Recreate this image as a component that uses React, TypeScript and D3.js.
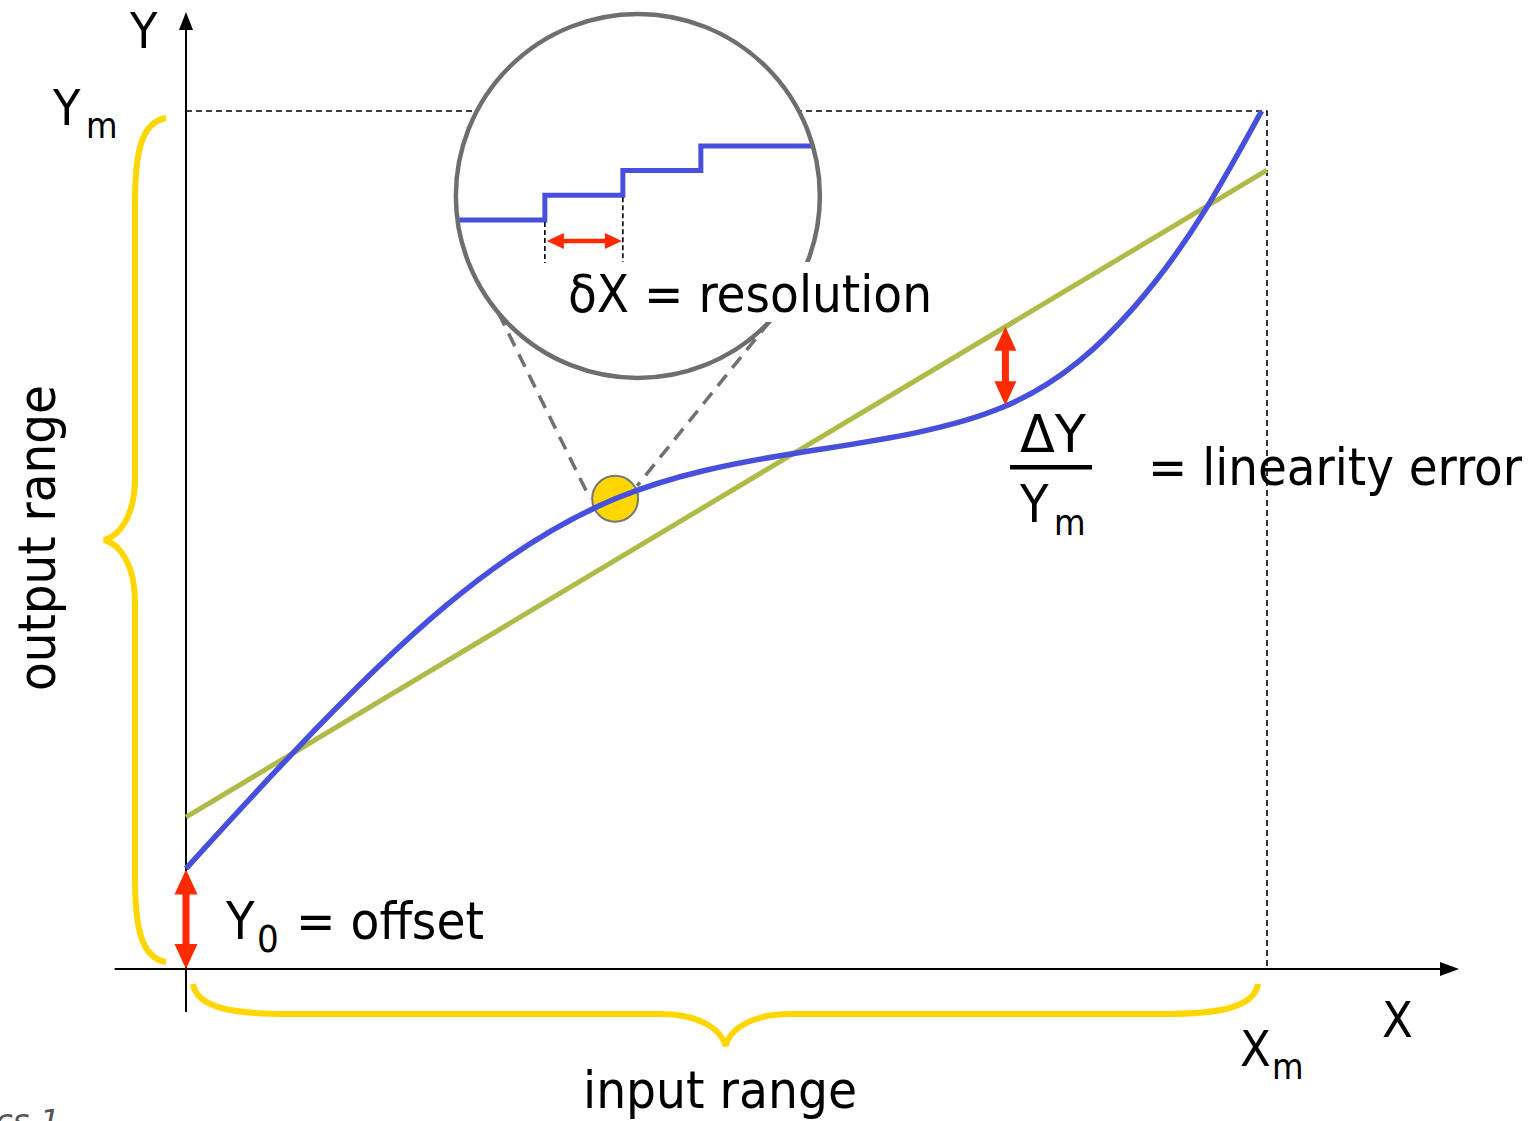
import React, { useRef, useEffect } from "react";
import * as d3 from "d3";

const WIDTH = 1530;
const HEIGHT = 1121;

// sensor transfer characteristic, normalised to Xm = 1 and Ym = 1
const curveX = [0, 0.099, 0.241, 0.397, 0.568, 0.756, 0.876, 0.943, 0.995];
const curveY = [0.117, 0.252, 0.424, 0.548, 0.602, 0.655, 0.77, 0.885, 1.0];

// best straight line through the characteristic
const fitX = [0, 1];
const fitY = [0.177, 0.931];

// zoomed-in detail: quantisation steps (code k holds between edges k and k+1)
const stepCodes = [0, 1, 2, 3];
const stepEdges = [-1.5, 1, 2, 3, 5];

const zoomAtX = 0.397; // where the magnifier looks at the curve
const insetCentre = [0.418, 0.901];
const errorAtX = 0.758; // where the linearity error is marked

const BLUE = "#4650DC";
const GREEN = "#AFBA48";
const YELLOW = "#FFD600";
const RED = "#FF2A00";
const GREY = "#6E6E6E";
const FONT = "'DejaVu Sans Condensed', 'DejaVu Sans', sans-serif";

function doubleArrow(x1: number, y1: number, x2: number, y2: number, head: number, hw: number, sw: number) {
  const len = Math.hypot(x2 - x1, y2 - y1);
  const ux = (x2 - x1) / len;
  const uy = (y2 - y1) / len;
  const nx = -uy;
  const ny = ux;
  const at = (x: number, y: number, along: number, side: number) => [x + ux * along + nx * side, y + uy * along + ny * side];
  const pts = [
    [x1, y1],
    at(x1, y1, head, hw / 2),
    at(x1, y1, head, sw / 2),
    at(x2, y2, -head, sw / 2),
    at(x2, y2, -head, hw / 2),
    [x2, y2],
    at(x2, y2, -head, -hw / 2),
    at(x2, y2, -head, -sw / 2),
    at(x1, y1, head, -sw / 2),
    at(x1, y1, head, -hw / 2),
  ];
  return "M" + pts.map((p) => p.join(",")).join("L") + "Z";
}

function App() {
  const svgRef = useRef<SVGSVGElement>(null);

  useEffect(() => {
    const svg = d3.select(svgRef.current);
    svg.selectAll("*").remove();

    const x = d3.scaleLinear().domain([0, 1]).range([186, 1267]);
    const y = d3.scaleLinear().domain([0, 1]).range([969, 111]);
    const onCurve = d3.scaleLinear().domain(curveX).range(curveY);

    const x0 = x(0);
    const y0 = y(0);

    // dashed guides to Xm / Ym
    svg.append("path")
      .attr("d", `M${x0},${y(1)}H${x(1)}V${y0}`)
      .attr("fill", "none")
      .attr("stroke", "#000")
      .attr("stroke-width", 1.6)
      .attr("stroke-dasharray", "6 4");

    // axes
    svg.append("line").attr("x1", x0).attr("x2", x0).attr("y1", y(-0.05)).attr("y2", 26)
      .attr("stroke", "#000").attr("stroke-width", 2);
    svg.append("path").attr("d", `M${x0},12L${x0 - 7},30L${x0 + 7},30Z`).attr("fill", "#000");
    svg.append("line").attr("x1", x(-0.066)).attr("x2", 1444).attr("y1", y0).attr("y2", y0)
      .attr("stroke", "#000").attr("stroke-width", 2);
    svg.append("path").attr("d", `M1459,${y0}L1440,${y0 - 7}L1440,${y0 + 7}Z`).attr("fill", "#000");

    // ranges (curly braces)
    const spine = 135, tip = 104, endX = 166;
    const top = y(1) + 7, bot = y0 - 7, mid = (top + bot) / 2;
    svg.append("path")
      .attr("d",
        `M${endX},${top}C${spine + 6},${top + 4} ${spine},${top + 35} ${spine},${top + 85}` +
        `L${spine},${mid - 62}C${spine},${mid - 25} ${tip + 16},${mid - 4} ${tip},${mid}` +
        `C${tip + 16},${mid + 4} ${spine},${mid + 25} ${spine},${mid + 62}` +
        `L${spine},${bot - 85}C${spine},${bot - 35} ${spine + 6},${bot - 4} ${endX},${bot}`)
      .attr("fill", "none").attr("stroke", YELLOW).attr("stroke-width", 6);

    const bSpine = 1014, bTip = 1046, bTop = 984;
    const left = x0 + 7, right = x(1) - 9, bMid = (left + right) / 2;
    svg.append("path")
      .attr("d",
        `M${left},${bTop}C${left + 4},${bSpine - 6} ${left + 40},${bSpine} ${left + 95},${bSpine}` +
        `L${bMid - 65},${bSpine}C${bMid - 25},${bSpine} ${bMid - 4},${bTip - 16} ${bMid},${bTip}` +
        `C${bMid + 4},${bTip - 16} ${bMid + 25},${bSpine} ${bMid + 65},${bSpine}` +
        `L${right - 95},${bSpine}C${right - 40},${bSpine} ${right - 4},${bSpine - 6} ${right},${bTop}`)
      .attr("fill", "none").attr("stroke", YELLOW).attr("stroke-width", 6);

    // straight line fit
    svg.append("line")
      .attr("x1", x(fitX[0])).attr("y1", y(fitY[0]))
      .attr("x2", x(fitX[1])).attr("y2", y(fitY[1]))
      .attr("stroke", GREEN).attr("stroke-width", 5);

    // magnifier: cone from the curve point to the circle
    const cx = x(insetCentre[0]);
    const cy = y(insetCentre[1]);
    const r = 182;
    const px = x(zoomAtX);
    const py = y(onCurve(zoomAtX));
    const coneAngles = [140, 43.5];
    const coneEnds = [[px - 25, py], [px + 22, py - 13]];
    coneAngles.forEach((a, i) => {
      const t = (a * Math.PI) / 180;
      svg.append("line")
        .attr("x1", cx + r * Math.cos(t)).attr("y1", cy + r * Math.sin(t))
        .attr("x2", coneEnds[i][0]).attr("y2", coneEnds[i][1])
        .attr("stroke", "#707070").attr("stroke-width", 3.5).attr("stroke-dasharray", "14 9");
    });
    svg.append("circle").attr("cx", px).attr("cy", py).attr("r", 23)
      .attr("fill", "#FFD700").attr("stroke", "#777").attr("stroke-width", 2);

    // characteristic curve
    const line = d3.line<number>()
      .x((d, i) => x(curveX[i]))
      .y((d) => y(d))
      .curve(d3.curveNatural);
    svg.append("path").attr("d", line(curveY)).attr("fill", "none")
      .attr("stroke", BLUE).attr("stroke-width", 5.5);

    // inset circle
    svg.append("defs").append("clipPath").attr("id", "inset-clip")
      .append("circle").attr("cx", cx).attr("cy", cy).attr("r", r - 2);
    svg.append("circle").attr("cx", cx).attr("cy", cy).attr("r", r)
      .attr("fill", "#fff").attr("stroke", GREY).attr("stroke-width", 4.5);

    const xi = d3.scaleLinear().domain([1, 3]).range([cx - 93, cx + 63]);
    const yi = d3.scaleLinear().domain([0, 3]).range([cy + 24, cy - 50]);
    let d = `M${xi(stepEdges[0])},${yi(stepCodes[0])}`;
    stepCodes.forEach((c, k) => {
      d += `V${yi(c)}H${xi(stepEdges[k + 1])}`;
    });
    svg.append("path").attr("d", d).attr("clip-path", "url(#inset-clip)")
      .attr("fill", "none").attr("stroke", BLUE).attr("stroke-width", 5);

    const markBottom = cy + 67;
    [1, 2].forEach((e) => {
      svg.append("line")
        .attr("x1", xi(e)).attr("x2", xi(e))
        .attr("y1", yi(e - 1) + 2).attr("y2", markBottom)
        .attr("stroke", "#000").attr("stroke-width", 1.6).attr("stroke-dasharray", "5 3");
    });
    svg.append("path")
      .attr("d", doubleArrow(xi(1) + 2, cy + 45, xi(2) - 1, cy + 45, 17, 16, 4.5))
      .attr("fill", RED);

    // white box under the resolution label (cuts the circle)
    svg.append("rect").attr("x", 566).attr("y", cy + 66).attr("width", 370).attr("height", 60).attr("fill", "#fff");

    // offset and linearity error arrows
    svg.append("path")
      .attr("d", doubleArrow(x0, y(curveY[0]) + 1, x0, y0, 25, 23, 7))
      .attr("fill", RED);
    const ex = x(errorAtX);
    const fitAt = fitY[0] + (fitY[1] - fitY[0]) * errorAtX;
    svg.append("path")
      .attr("d", doubleArrow(ex, y(fitAt), ex, y(onCurve(errorAtX)), 24, 22, 7))
      .attr("fill", RED);

    // labels
    const text = (tx: number, ty: number, s: string, size: number, len?: number) => {
      const t = svg.append("text").attr("x", tx).attr("y", ty)
        .attr("font-family", FONT).attr("font-stretch", "condensed")
        .attr("font-size", size).attr("fill", "#000").text(s);
      if (len) t.attr("textLength", len).attr("lengthAdjust", "spacingAndGlyphs");
      return t;
    };

    text(130, 48, "Y", 50);
    text(53, 125, "Y", 50);
    text(86, 138, "m", 36);
    text(1382, 1037, "X", 50);
    text(1240, 1066, "X", 50);
    text(1272, 1079, "m", 36);

    text(226, 939, "Y", 52);
    text(257, 952, "0", 38);
    text(296, 939, "= offset", 52, 188);

    text(568, 312, "δX = resolution", 52, 364);

    text(1020, 452, "ΔY", 52, 66);
    svg.append("rect").attr("x", 1010).attr("y", 465).attr("width", 82).attr("height", 4.5).attr("fill", "#000");
    text(1020, 522, "Y", 52);
    text(1054, 535, "m", 36);
    text(1148, 485, "= linearity error", 52, 374);

    text(583, 1108, "input range", 52, 274);
    text(0, 0, "output range", 52, 306)
      .attr("transform", `translate(55,538) rotate(-90)`)
      .attr("text-anchor", "middle")
      .attr("x", 0).attr("y", 0);

    svg.append("text").attr("x", 60).attr("y", 1132)
      .attr("text-anchor", "end").attr("font-family", "'DejaVu Sans', sans-serif")
      .attr("font-style", "italic").attr("font-size", 32).attr("fill", "#555")
      .text("cs 1");
  }, []);

  return (
    <div>
      <svg
        ref={svgRef}
        width={WIDTH}
        height={HEIGHT}
        style={{ position: "absolute", left: 0, top: 0, background: "#fff" }}
      />
    </div>
  );
}

export default App;
